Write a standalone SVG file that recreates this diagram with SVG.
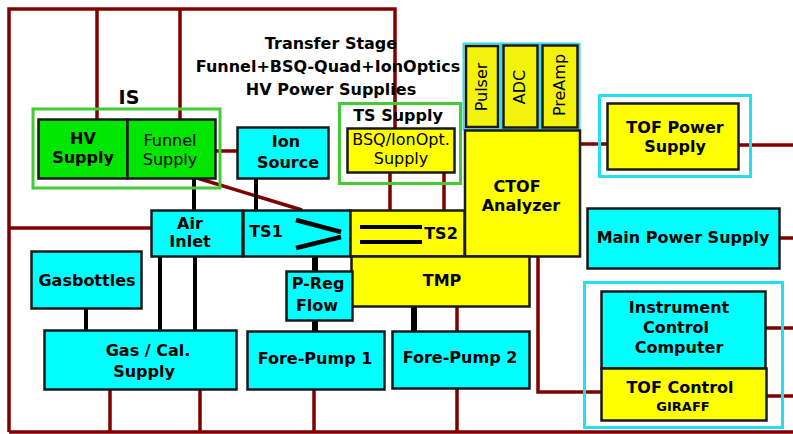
<svg xmlns="http://www.w3.org/2000/svg" width="793" height="434" viewBox="0 0 793 434">
<style>
.b{stroke:#1a1a1a;stroke-width:2.5}
.cy{fill:#00ffff}
.ye{fill:#ffff00}
.gr{fill:#00e600}
.py{fill:#f2f20a}
.fg{fill:none;stroke:#44cc33;stroke-width:3}
.fc{fill:none;stroke:#22e0ee;stroke-width:3}
.fcs{fill:none;stroke:#33ddee;stroke-width:2}
.r{stroke:#800000;stroke-width:3.5;fill:none}
.k{stroke:#000;fill:none}
text{font-family:"DejaVu Sans","Liberation Sans",sans-serif;fill:#000;text-anchor:middle}
.t{font-size:16px;font-weight:bold}
.n{font-size:16px}
.h{font-size:16px;font-weight:bold}
</style>
<g id="connectors">
<polyline class="r" points="9,432 9,9 395,9 395,128"/>
<line class="r" x1="97" y1="9" x2="97" y2="119"/>
<line class="r" x1="180" y1="9" x2="180" y2="119"/>
<line class="r" x1="9" y1="228" x2="151" y2="228"/>
<line class="r" x1="9" y1="432" x2="793" y2="432"/>
<line class="r" x1="216" y1="151" x2="237" y2="151"/>
<line class="r" x1="197" y1="178" x2="302" y2="210"/>
<line class="r" x1="390" y1="172" x2="390" y2="210"/>
<line class="r" x1="444" y1="172" x2="444" y2="210"/>
<line class="r" x1="580" y1="144" x2="607" y2="144"/>
<line class="r" x1="739" y1="145" x2="793" y2="145"/>
<line class="r" x1="780" y1="238" x2="793" y2="238"/>
<line class="r" x1="766" y1="328" x2="793" y2="328"/>
<line class="r" x1="766" y1="396" x2="793" y2="396"/>
<polyline class="r" points="538,256 538,392 601,392"/>
<line class="r" x1="110" y1="390" x2="110" y2="432"/>
<line class="r" x1="200" y1="390" x2="200" y2="432"/>
<line class="r" x1="314" y1="389" x2="314" y2="432"/>
<line class="r" x1="457" y1="306" x2="457" y2="331"/>
<line class="r" x1="457" y1="389" x2="457" y2="432"/>
<line class="k" stroke-width="4" x1="86" y1="308" x2="86" y2="330"/>
<line class="k" stroke-width="4" x1="160" y1="256" x2="160" y2="330"/>
<line class="k" stroke-width="4" x1="195" y1="256" x2="195" y2="330"/>
<line class="k" stroke-width="4" x1="194" y1="178" x2="194" y2="210"/>
<line class="k" stroke-width="4" x1="256" y1="178" x2="256" y2="210"/>
<line class="k" stroke-width="6" x1="315" y1="256" x2="315" y2="271"/>
<line class="k" stroke-width="6" x1="315" y1="320" x2="315" y2="331"/>
<line class="k" stroke-width="6" x1="414" y1="306" x2="414" y2="331"/>
</g>
<g id="title">
<text class="h" x="331" y="49">Transfer Stage</text>
<text class="h" x="328" y="72">Funnel+BSQ-Quad+IonOptics</text>
<text class="h" x="331" y="95">HV Power Supplies</text>
</g>
<g id="is-group">
<rect class="fg" x="33" y="109" width="187" height="79"/>
<text x="129" y="104" style="font-size:19px;font-weight:bold">IS</text>
</g>
<g id="hv-supply">
<rect class="b gr" x="38.5" y="119.5" width="89" height="59"/>
<text class="t" x="83" y="144">HV</text>
<text class="t" x="83" y="163">Supply</text>
</g>
<g id="funnel-supply">
<rect class="b gr" x="127.5" y="119.5" width="88" height="59"/>
<text class="n" x="170" y="146">Funnel</text>
<text class="n" x="170" y="165">Supply</text>
</g>
<g id="ion-source">
<rect class="b cy" x="237.5" y="127.5" width="91" height="51"/>
<text class="t" x="286" y="147">Ion</text>
<text class="t" x="288" y="168">Source</text>
</g>
<g id="ts-supply">
<rect class="fg" x="339.5" y="103.5" width="121" height="80"/>
<text class="t" x="398" y="121">TS Supply</text>
</g>
<g id="bsq-supply">
<rect class="b ye" x="347.5" y="128.5" width="107" height="44"/>
<text class="n" x="401" y="145">BSQ/IonOpt.</text>
<text class="n" x="401" y="164">Supply</text>
</g>
<g id="pulser">
<rect class="fcs" x="463.5" y="43.5" width="37" height="86"/>
<rect class="b py" x="466" y="46" width="32" height="81"/>
<text class="n" transform="translate(487,87) rotate(-90)">Pulser</text>
</g>
<g id="adc">
<rect class="fcs" x="501.5" y="43.5" width="38" height="86"/>
<rect class="b py" x="503.5" y="45.5" width="34" height="82"/>
<text class="n" transform="translate(525,87) rotate(-90)">ADC</text>
</g>
<g id="preamp">
<rect class="fcs" x="540.5" y="43.5" width="39" height="86"/>
<rect class="b py" x="542.5" y="45.5" width="35" height="82"/>
<text class="n" transform="translate(565,85) rotate(-90)">PreAmp</text>
</g>
<g id="ctof">
<rect class="b ye" x="465" y="130.5" width="115" height="126"/>
<text class="t" x="517" y="192">CTOF</text>
<text class="t" x="521" y="211">Analyzer</text>
</g>
<g id="tof-power">
<rect class="fc" x="599.5" y="95.5" width="151" height="81"/>
<rect class="b ye" x="607.5" y="103.5" width="131" height="66"/>
<text class="t" x="675" y="133">TOF Power</text>
<text class="t" x="675" y="152">Supply</text>
</g>
<g id="main-power">
<rect class="b cy" x="587.5" y="208.5" width="192" height="60"/>
<text class="t" x="683" y="243">Main Power Supply</text>
</g>
<g id="instrument-group">
<rect class="fc" x="584.5" y="282.5" width="198" height="145"/>
</g>
<g id="icc">
<rect class="b cy" x="601.5" y="291.5" width="164" height="77"/>
<text class="t" x="679" y="313">Instrument</text>
<text class="t" x="676" y="333">Control</text>
<text class="t" x="679" y="353">Computer</text>
</g>
<g id="tof-control">
<rect class="b ye" x="601.5" y="368.5" width="165" height="52"/>
<text class="t" x="680" y="393">TOF Control</text>
<text x="683" y="411" style="font-size:13px;font-weight:bold">GIRAFF</text>
</g>
<g id="air-inlet">
<rect class="b cy" x="151.5" y="210.5" width="91" height="46"/>
<text class="t" x="190" y="229">Air</text>
<text class="t" x="190" y="247">Inlet</text>
</g>
<g id="ts1">
<rect class="b cy" x="243.5" y="210.5" width="107" height="46"/>
<text class="t" x="266" y="237">TS1</text>
<polyline points="296,220 341,232" stroke="#000" stroke-width="4.5" fill="none"/>
<polyline points="341,237 296,248" stroke="#000" stroke-width="4.5" fill="none"/>
</g>
<g id="ts2">
<rect class="b ye" x="350.5" y="210.5" width="114" height="46"/>
<line x1="360" y1="227" x2="422" y2="227" stroke="#000" stroke-width="4"/>
<line x1="360" y1="242" x2="422" y2="242" stroke="#000" stroke-width="4"/>
<text class="t" x="441" y="239">TS2</text>
</g>
<g id="tmp">
<rect class="b ye" x="351.5" y="256.5" width="178" height="50"/>
<text class="t" x="442" y="286">TMP</text>
</g>
<g id="p-reg">
<rect class="b cy" x="286.5" y="271.5" width="66" height="49"/>
<text class="t" x="318" y="289">P-Reg</text>
<text class="t" x="317" y="311">Flow</text>
</g>
<g id="gasbottles">
<rect class="b cy" x="31.5" y="251.5" width="110" height="57"/>
<text class="t" x="87" y="286">Gasbottles</text>
</g>
<g id="gas-cal">
<rect class="b cy" x="44.5" y="330.5" width="192" height="59"/>
<text class="t" x="148" y="356">Gas / Cal.</text>
<text class="t" x="144" y="377">Supply</text>
</g>
<g id="fore-pump-1">
<rect class="b cy" x="247.5" y="331.5" width="137" height="58"/>
<text class="t" x="315" y="364">Fore-Pump 1</text>
</g>
<g id="fore-pump-2">
<rect class="b cy" x="392.5" y="331.5" width="137" height="57"/>
<text class="t" x="460" y="363">Fore-Pump 2</text>
</g>
</svg>
